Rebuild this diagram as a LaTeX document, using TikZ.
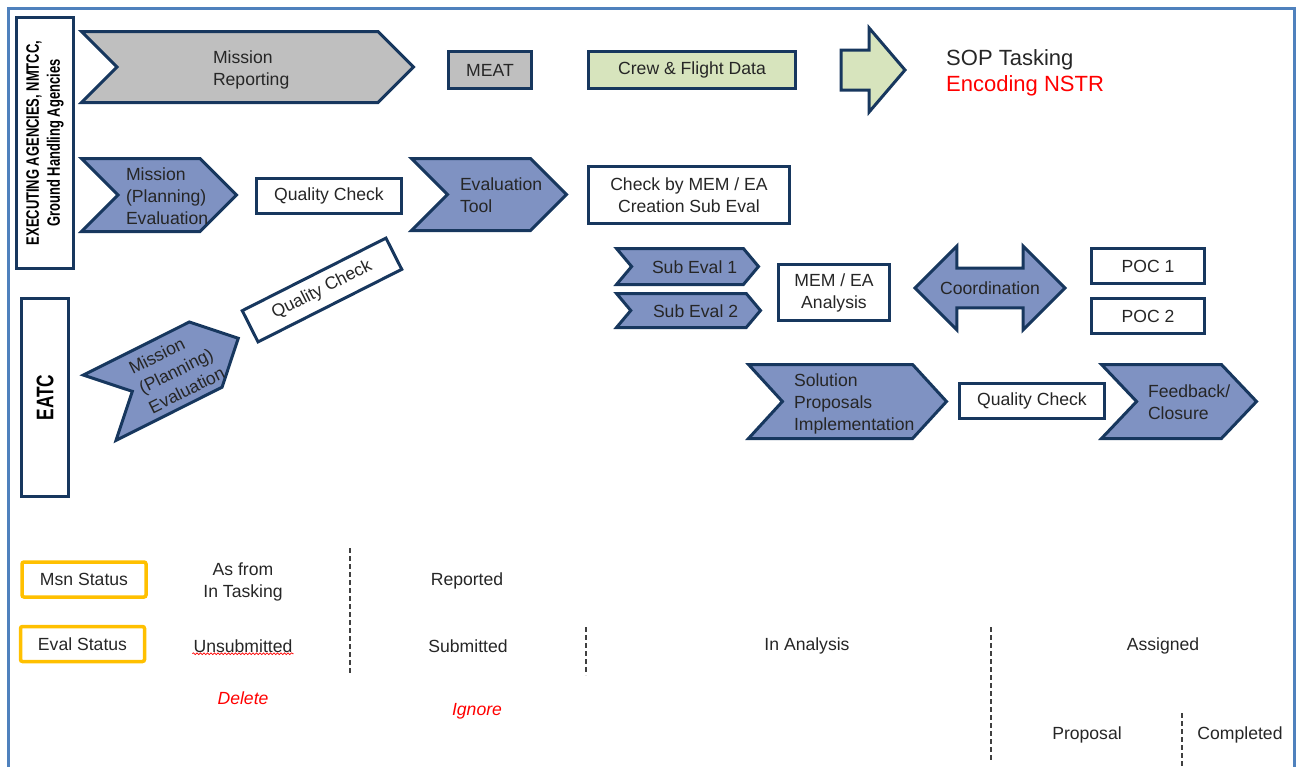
\documentclass[tikz,border=0pt]{standalone}
\usepackage{fontspec}
\setmainfont{Liberation Sans}
\newfontfamily\narrowfont[FakeStretch=0.72]{Liberation Sans}
\usepackage{tikz}
\usetikzlibrary{
    positioning,
    shapes.symbols,
    shapes.arrows,
    decorations.pathmorphing,
}

\definecolor{navy}{RGB}{23,55,94}
\definecolor{chevblue}{RGB}{127,146,194}
\definecolor{meatgray}{RGB}{191,191,191}
\definecolor{crewgreen}{RGB}{215,228,189}
\definecolor{statusorange}{RGB}{255,192,0}
\definecolor{pageblue}{RGB}{79,129,189}

\newcommand{\boxfont}{\fontsize{17.6}{22}\selectfont}
% left-aligned text block, starting #1 from the node centre
\newcommand{\chevtext}[2]{\makebox[0pt][l]{\hspace*{#1}\raisebox{-3pt}[\height][\depth]{\begin{tabular}{@{}l@{}}#2\end{tabular}}}}

\begin{document}
\begin{tikzpicture}[
        x=1pt, y=-1pt,
        chevron/.style={
            signal, signal from=west, signal to=east, signal pointer angle=90,
            draw=navy, line width=3pt, fill=chevblue, inner sep=0pt,
            font=\boxfont, text=black!85
        },
        box/.style={
            rectangle, draw=navy, line width=3pt, fill=white, inner sep=0pt,
            align=center, font=\boxfont, text=black!85
        },
        lane/.style={
            rectangle, draw=navy, line width=3pt, fill=white, inner sep=0pt,
            align=center, rotate=90, text=black
        },
        status/.style={
            rectangle, rounded corners=2pt, draw=statusorange, line width=3.5pt,
            inner sep=0pt, minimum width=124pt, minimum height=35pt,
            font=\boxfont, text=black!85
        },
        legend/.style={inner sep=1pt, align=center, font=\boxfont, text=black!85},
        remark/.style={inner sep=1pt, font=\boxfont\itshape, text=red},
        divider/.style={draw=black!75, line width=1.2pt, dash pattern=on 5pt off 3pt},
    ]

    \useasboundingbox (0,0) rectangle (1301,766);
    \draw[pageblue, line width=3pt] (8,8) rectangle (1294,800);

    % ── Lanes ──
    \node[lane, minimum width=251pt, minimum height=57pt,
        font=\narrowfont\bfseries\fontsize{18}{21}\selectfont] (laneExec) at (45,143)
        {EXECUTING AGENCIES, NMTCC,\\Ground Handling Agencies};
    \node[lane, minimum width=198pt, minimum height=47pt,
        font=\narrowfont\bfseries\fontsize{24}{28}\selectfont] (laneEatc) at (45,397.5) {EATC};

    % ── Row 1: reporting ──
    \node[chevron, fill=meatgray, minimum width=332pt, minimum height=71pt]
        (missionRep) at (247.5,67) {\chevtext{-34.5pt}{Mission\\Reporting}};
    \node[box, fill=meatgray, minimum width=83pt, minimum height=37pt]
        (meat) at (490,70) {MEAT};
    \node[box, fill=crewgreen, minimum width=207pt, minimum height=37pt]
        (crewData) at (692,70) {Crew \& Flight Data};
    \node[single arrow, draw=navy, line width=3pt, fill=crewgreen,
        inner xsep=0pt, inner ysep=18.5pt, single arrow head extend=22pt,
        single arrow tip angle=99, minimum height=64pt, minimum width=81pt, anchor=tail]
        (sopArrow) at (839.5,70) {};
    \node[anchor=west, align=left, inner sep=0pt, text=black!85,
        font=\fontsize{22}{26}\selectfont] (sopText) at (946,73)
        {SOP Tasking\\\textcolor{red}{Encoding NSTR}};

    % ── Row 2: evaluation ──
    \node[chevron, minimum width=155pt, minimum height=73pt]
        (missionEval) at (159,195) {\chevtext{-33pt}{Mission\\(Planning)\\Evaluation}};
    \node[box, minimum width=145pt, minimum height=35pt]
        (qcExec) at (329,196) {Quality Check};
    \node[chevron, minimum width=155pt, minimum height=72pt]
        (evalTool) at (489,194.5) {\chevtext{-29pt}{Evaluation\\Tool}};
    \node[box, minimum width=201pt, minimum height=57pt]
        (checkMem) at (689,195) {Check by MEM / EA\\Creation Sub Eval};

    % ── EATC evaluation (tilted) ──
    \node[chevron, rotate=26.6, minimum width=155pt, minimum height=73pt]
        (missionEvalEatc) at (169,373) {\chevtext{-33pt}{Mission\\(Planning)\\Evaluation}};
    \node[box, rotate=26.8, minimum width=161pt, minimum height=35pt]
        (qcEatc) at (322,290) {Quality Check};

    % ── Row 3: analysis ──
    \node[chevron, signal pointer angle=100, minimum width=142pt, minimum height=36pt]
        (subEval1) at (687.5,266.5) {\chevtext{-35.5pt}{Sub Eval 1}};
    \node[chevron, signal pointer angle=100, minimum width=144pt, minimum height=34pt,
        below=6pt of subEval1, xshift=1pt]
        (subEval2) {\chevtext{-35.5pt}{Sub Eval 2}};
    \node[box, minimum width=111pt, minimum height=56pt]
        (memAnalysis) at (834,292.5) {MEM / EA\\Analysis};
    \node[double arrow, draw=navy, line width=3pt, fill=chevblue,
        inner xsep=0pt, inner ysep=12pt, double arrow head extend=22pt,
        double arrow tip angle=90, minimum height=150pt, minimum width=81pt,
        font=\boxfont, text=black!85]
        (coord) at (990,288) {\makebox[0pt]{Coordination}};
    \node[box, minimum width=113pt, minimum height=35pt]
        (poc1) at (1148,266) {POC 1};
    \node[box, minimum width=113pt, minimum height=35pt, below=12pt of poc1]
        (poc2) {POC 2};

    % ── Row 4: closure ──
    \node[chevron, signal pointer angle=95, minimum width=198pt, minimum height=74pt]
        (solution) at (847.5,401.5) {\chevtext{-53.5pt}{Solution\\Proposals\\Implementation}};
    \node[box, minimum width=145pt, minimum height=35pt]
        (qcSolution) at (1032,401) {Quality Check};
    \node[chevron, signal pointer angle=93, minimum width=155pt, minimum height=74pt]
        (feedback) at (1179,401.5) {\chevtext{-31pt}{Feedback/\\Closure}};

    % ── Status legend ──
    \node[status] (msnStatus) at (84,579.5) {Msn Status};
    \node[status, below=26pt of msnStatus, xshift=-1.5pt] (evalStatus) {Eval Status};

    \node[legend] (asFrom) at (243,582) {As from\\In Tasking};
    \node[legend] (unsub) at (243,646) {Unsubmitted};
    \node[remark] (delete) at (243,698) {Delete};
    \node[legend] (reported) at (467,581) {Reported};
    \node[legend] (submitted) at (468,646) {Submitted};
    \node[remark] (ignore) at (477,711) {Ignore};
    \node[legend] (inAnalysis) at (807,646) {In Analysis};
    \node[legend] (assigned) at (1163,646) {Assigned};
    \node[legend] (proposal) at (1087,735) {Proposal};
    \node[legend] (completed) at (1240,735) {Completed};

    \draw[red, line width=0.7pt, decorate,
        decoration={snake, amplitude=0.9pt, segment length=3.5pt}]
        (unsub.south west) -- (unsub.south east);

    % ── Dividers ──
    \draw[divider] (350,548) -- (350,675);
    \draw[divider] (586,627) -- (586,675);
    \draw[divider] (991,627) -- (991,760);
    \draw[divider] (1182,713) -- (1182,766);

\end{tikzpicture}
\end{document}
